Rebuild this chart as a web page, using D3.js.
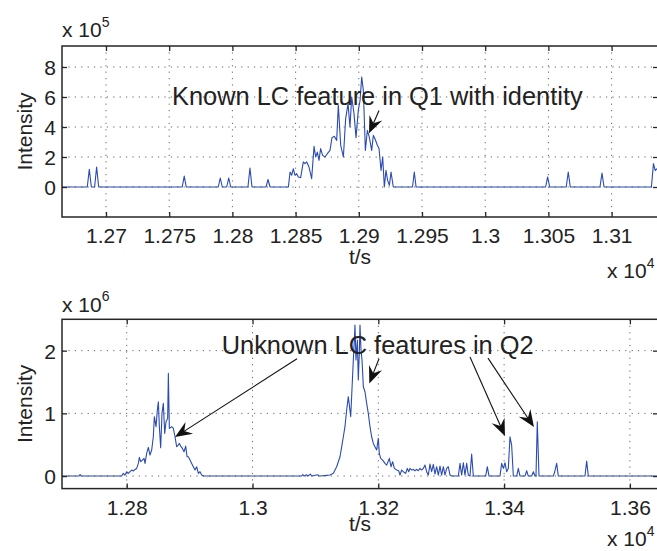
<!DOCTYPE html>
<html><head><meta charset="utf-8">
<script src="https://cdn.jsdelivr.net/npm/d3@7"></script>
<style>
html,body{margin:0;padding:0;background:#fff;}
svg{display:block;}
text{font-family:"Liberation Sans",Arial,Helvetica,sans-serif;fill:#222;}
</style></head>
<body>
<svg id="chart" width="657" height="551"></svg>
<script>
// ---------------- DATA ----------------
// Top panel (Q1): time in s, intensity in units of 1e5
const topTime = [12665,12685.2,12686.8,12688.4,12691.0,12692.6,12694.2,12760.3,12761.9,12763.5,12788.8,12790.4,12792.0,12795.5,12797.1,12798.7,12812.3,12813.9,12815.5,12826.6,12828.2,12829.8,
12844.3,12845.6,12846.9,12848.2,12849.5,12850.8,12852.2,12854.0,12856.1,12857.4,12858.8,12860.6,12862.7,12864.6,12865.9,12867.2,12868.5,12869.8,12871.4,12873.3,12875.1,12877.2,12878.8,12880.6,12882.5,12883.8,12885.7,12887.8,12889.6,12891.5,12893.0,12894.4,12896.2,12897.8,12899.6,12901.0,12902.3,12903.6,12905.2,12906.8,12908.3,12910.2,12911.5,12912.8,12914.7,12916.0,12917.6,12918.9,12920.2,12921.5,12922.8,12924.2,12925.5,12927.3,
12942.5,12943.9,12945.3,13047.8,13049.4,13051.0,13064.1,13065.7,13067.3,13090.8,13092.4,13094.0,13131.5,13133.1,13134.5,13137];
const topIntensity = [0,0,1.18,0,0,1.33,0,0,0.73,0,0,0.6,0,0,0.6,0,0,1.27,0,0,0.5,0,
0,1.0,0.78,1.22,0.78,0.89,0.67,0.62,1.67,1.56,1.67,1.33,0.56,2.71,2.0,2.33,1.78,2.56,2.11,2.0,2.22,2.44,3.29,3.38,3.11,5.44,2.78,2.0,4.56,5.56,4.0,6.0,4.89,3.29,5.11,5.78,7.33,6.44,2.44,3.78,3.33,2.44,3.44,3.22,2.78,2.56,1.11,2.0,0,1.11,0.44,0.11,1.0,0,
0,1.0,0,0,0.67,0,0,1.0,0,0,0.93,0,0,1.56,1.1,1.3];

// Bottom panel (Q2): time in s, intensity in units of 1e6
const bottomTime = [12697,12724.2,12725.8,12727.4,12792.0,12794.6,12797.3,12799.9,12802.6,12805.2,12807.9,12810.5,12813.2,12815.8,12818.5,12820.1,12822.2,12824.9,12827.5,12829.1,12831.7,12834.4,12837.0,12839.7,12842.3,12843.9,12846.6,12848.7,12850.3,12851.9,12854.0,12856.1,12858.2,12860.4,12862.5,12865.1,12866.2,12867.8,12871.5,12874.1,12876.8,12879.4,12882.1,12883.7,12885.8,12888.5,12891.1,12893.8,12895.9,12898.0,12900.7,12903.3,12905.9,12908.6,12911.2,12913.9,12916.5,12919.2,12921.8,
13078,13080,13082,13086,13088,13092,13094,13104,13106,
13107.3,13117.9,13123.2,13128.5,13133.8,13139.1,13141.8,13144.4,13147.0,13149.7,13152.3,13156.1,13157.6,13160.3,13161.9,13162.9,13164.5,13166.7,13168.2,13169.8,13170.9,13172.5,13174.1,13176.2,13178.8,13181.5,13184.1,13186.8,13189.4,13192.1,13194.7,13197.4,13200.0,13201.6,13203.8,13206.9,13210.6,13213.3,13217.5,13220.2,13222.8,13225.5,13229.2,13232.4,13234.5,13237.1,13239.8,13243.5,13246.1,13248.3,13250.4,13253.0,13255.7,13258.3,13261.0,13263.6,13266.3,13268.9,13271.6,13274.2,13276.9,13279.5,13282.2,13284.8,13287.5,13290.1,13292.8,13295.4,13298.1,13300.7,13303.4,13306.0,13308.7,13311.3,13314.0,13316.6,
13327.2,13329.9,13332.5,13335.2,13337.8,13340.5,13343.1,13345.8,13348.4,13351.1,13370.7,13373.3,13376.0,13393.5,13396.1,13398.8,13401.4,13404.1,13406.7,13409.4,13412.0,13414.7,13420.0,13422.6,13425.3,13433.2,13435.9,13438.5,13443.8,13446.5,13449.1,13450.7,13452.8,13455.5,13478.3,13480.9,13483.6,13486.2,13528.6,13531.3,13533.9,13645];
const bottomIntensity = [0,0,0.025,0,0,0.043,0.016,0.069,0.043,0.069,0.096,0.08,0.106,0.122,0.202,0.298,0.229,0.255,0.282,0.202,0.362,0.457,0.335,0.415,0.627,0.947,0.787,1.053,1.186,0.787,0.452,1.0,1.16,0.68,0.866,0.92,1.637,0.76,0.787,0.76,0.627,0.468,0.494,0.521,0.478,0.441,0.388,0.478,0.308,0.308,0.255,0.202,0.149,0.096,0.149,0.043,0.069,0.016,0,
0,0.025,0,0.02,0,0.03,0,0.02,0,
0,0.011,0.016,0.043,0.149,0.308,0.468,0.627,0.787,1.053,1.266,0.947,1.266,1.85,2.169,2.409,1.85,2.169,1.531,1.956,2.409,2.009,1.85,1.425,1.345,1.159,0.999,0.787,0.627,0.521,0.468,0.415,0.601,0.361,0.282,0.255,0.202,0.175,0.282,0.149,0.229,0.122,0.096,0.085,0.016,0.096,0.069,0.043,0.122,0.069,0.122,0.096,0.106,0.085,0.106,0.085,0.122,0.096,0.122,0.175,0.069,0.016,0.191,0.069,0.186,0.032,0.149,0.016,0.159,0.016,0.149,0.016,0.122,0.149,0.016,0,
0,0.202,0.016,0.213,0.016,0.202,0.016,0,0.351,0,0,0.149,0,0,0.202,0.122,0.213,0.069,0.122,0.627,0.494,0,0,0.122,0,0,0.085,0,0,0.069,0,0,0.867,0,0,0.085,0.202,0,0,0.239,0,0];

// Ticks and labels
const topXTicks = [12700,12750,12800,12850,12900,12950,13000,13050,13100];
const topXTickLabels = ["1.27","1.275","1.28","1.285","1.29","1.295","1.3","1.305","1.31"];
const topYTicks = [0,2,4,6,8];
const topYTickLabels = ["0","2","4","6","8"];
const bottomXTicks = [12800,13000,13200,13400,13600];
const bottomXTickLabels = ["1.28","1.3","1.32","1.34","1.36"];
const bottomYTicks = [0,1,2];
const bottomYTickLabels = ["0","1","2"];
const topYExponent = "5", bottomYExponent = "6", xExponent = "4";
const yLabel = "Intensity", xLabel = "t/s";

// Annotations (data coordinates): [startT, startV, tipT, tipV]
const topAnnotationText = "Known LC feature in Q1 with identity";
const topAnnotationPos = [12752.2, 5.45];
const topArrows = [[12916.0, 5.1, 12908.1, 3.58]];
const bottomAnnotationText = "Unknown LC features in Q2";
const bottomAnnotationPos = [12951, 1.946];
const bottomArrows = [
  [13070.7, 1.87, 12876.8, 0.622],
  [13201.1, 1.87, 13185.7, 1.478],
  [13345.8, 1.90, 13401.4, 0.638],
  [13374.4, 1.88, 13447.5, 0.781]
];

// ---------------- DRAW ----------------
const svg = d3.select("#chart");
const LINE = "#2b4bb0", AX = "#262626";

function panel(cfg){
  const g = svg.append("g");
  const x = d3.scaleLinear().domain(cfg.xDomain).range([cfg.left, cfg.right]);
  const y = d3.scaleLinear().domain(cfg.yDomain).range([cfg.bottom, cfg.top]);
  const clipId = "clip" + cfg.id;
  svg.append("clipPath").attr("id", clipId).append("rect")
    .attr("x", cfg.left).attr("y", cfg.top).attr("width", cfg.right - cfg.left).attr("height", cfg.bottom - cfg.top);

  // grid
  const grid = g.append("g").attr("stroke", "#666").attr("stroke-width", 1).attr("stroke-dasharray", "1.2,5.2");
  cfg.xTicks.forEach(t => grid.append("line").attr("x1", x(t)).attr("x2", x(t)).attr("y1", cfg.top).attr("y2", cfg.bottom));
  cfg.yTicks.forEach(t => grid.append("line").attr("x1", cfg.left).attr("x2", cfg.right).attr("y1", y(t)).attr("y2", y(t)));

  // data line
  const pts = cfg.time.map((t, i) => [t, cfg.values[i]]);
  g.append("path").datum(pts)
    .attr("clip-path", `url(#${clipId})`)
    .attr("fill", "none").attr("stroke", LINE).attr("stroke-width", 1.1).attr("stroke-linejoin", "round")
    .attr("d", d3.line().x(d => x(d[0])).y(d => y(d[1])));

  // axes with inward ticks on all four sides
  const tl = -5;
  const bottomAxis = d3.axisBottom(x).tickValues(cfg.xTicks).tickSizeInner(tl).tickSizeOuter(0).tickFormat((d, i) => cfg.xLabels[i]).tickPadding(11);
  const topAxis = d3.axisTop(x).tickValues(cfg.xTicks).tickSizeInner(tl).tickSizeOuter(0).tickFormat("");
  const leftAxis = d3.axisLeft(y).tickValues(cfg.yTicks).tickSizeInner(tl).tickSizeOuter(0).tickFormat((d, i) => cfg.yLabels[i]).tickPadding(6);
  const rightAxis = d3.axisRight(y).tickValues(cfg.yTicks).tickSizeInner(tl).tickSizeOuter(0).tickFormat("");

  const ab = g.append("g").attr("transform", `translate(0,${cfg.bottom})`).call(bottomAxis);
  const at = g.append("g").attr("transform", `translate(0,${cfg.top})`).call(topAxis);
  const al = g.append("g").attr("transform", `translate(${cfg.left},0)`).call(leftAxis);
  const ar = g.append("g").attr("transform", `translate(${cfg.right},0)`).call(rightAxis);
  [ab, at, al, ar].forEach(a => {
    a.select(".domain").remove();
    a.selectAll(".tick line").attr("stroke", AX).attr("stroke-width", 1.3);
    a.selectAll("text").attr("font-size", "21px").attr("fill", "#222")
      .style("font-family", '"Liberation Sans", Arial, sans-serif');
  });
  ab.selectAll("text").attr("dy", "0.71em");
  al.selectAll("text").attr("dy", "0.36em");

  // box
  g.append("rect").attr("x", cfg.left).attr("y", cfg.top).attr("width", cfg.right - cfg.left).attr("height", cfg.bottom - cfg.top)
    .attr("fill", "none").attr("stroke", AX).attr("stroke-width", 1.5);

  // y label
  g.append("text").attr("transform", `translate(32,${(cfg.top + cfg.bottom) / 2}) rotate(-90)`)
    .attr("text-anchor", "middle").attr("font-size", "21px").text(yLabel);
  // x label
  g.append("text").attr("x", (cfg.left + cfg.right) / 2).attr("y", cfg.xLabelY)
    .attr("text-anchor", "middle").attr("font-size", "21px").text(xLabel);

  // y exponent
  const ye = g.append("text").attr("x", cfg.left).attr("y", cfg.yExpY).attr("font-size", "21px");
  ye.append("tspan").text("x 10");
  ye.append("tspan").attr("font-size", "14px").attr("dy", "-0.75em").text(cfg.yExp);
  // x exponent
  const xe = g.append("text").attr("x", 607).attr("y", cfg.xExpY).attr("font-size", "21px");
  xe.append("tspan").text("x 10");
  xe.append("tspan").attr("font-size", "14px").attr("dy", "-0.75em").text(xExponent);

  // annotation text
  g.append("text").attr("x", x(cfg.annPos[0])).attr("y", y(cfg.annPos[1]))
    .attr("font-size", "25.4px").text(cfg.annText);

  // arrows
  cfg.arrows.forEach(a => {
    const x1 = x(a[0]), y1 = y(a[1]), x2 = x(a[2]), y2 = y(a[3]);
    const dx = x2 - x1, dy = y2 - y1, len = Math.hypot(dx, dy);
    const ux = dx / len, uy = dy / len, px = -uy, py = ux;
    const L = 17, W = 7, N = 11;
    const bx = x2 - ux * L, by = y2 - uy * L;
    const nx = x2 - ux * N, ny = y2 - uy * N;
    g.append("line").attr("x1", x1).attr("y1", y1).attr("x2", nx).attr("y2", ny)
      .attr("stroke", "#111").attr("stroke-width", 1.1);
    g.append("path").attr("fill", "#111")
      .attr("d", `M${x2},${y2}L${bx + px * W},${by + py * W}L${nx},${ny}L${bx - px * W},${by - py * W}Z`);
  });
}

panel({
  id: "top", left: 62, right: 658, top: 46, bottom: 217,
  xDomain: [12665.2, 13136.7], yDomain: [-2, 9.4],
  time: topTime, values: topIntensity,
  xTicks: topXTicks, xLabels: topXTickLabels, yTicks: topYTicks, yLabels: topYTickLabels,
  yExp: topYExponent, yExpY: 37, xExpY: 278, xLabelY: 264,
  annText: topAnnotationText, annPos: topAnnotationPos, arrows: topArrows
});
panel({
  id: "bottom", left: 62, right: 658, top: 319.3, bottom: 488.6,
  xDomain: [12697.1, 13644.7], yDomain: [-0.2, 2.5],
  time: bottomTime, values: bottomIntensity,
  xTicks: bottomXTicks, xLabels: bottomXTickLabels, yTicks: bottomYTicks, yLabels: bottomYTickLabels,
  yExp: bottomYExponent, yExpY: 311.5, xExpY: 546, xLabelY: 531,
  annText: bottomAnnotationText, annPos: bottomAnnotationPos, arrows: bottomArrows
});
</script>
</body></html>
